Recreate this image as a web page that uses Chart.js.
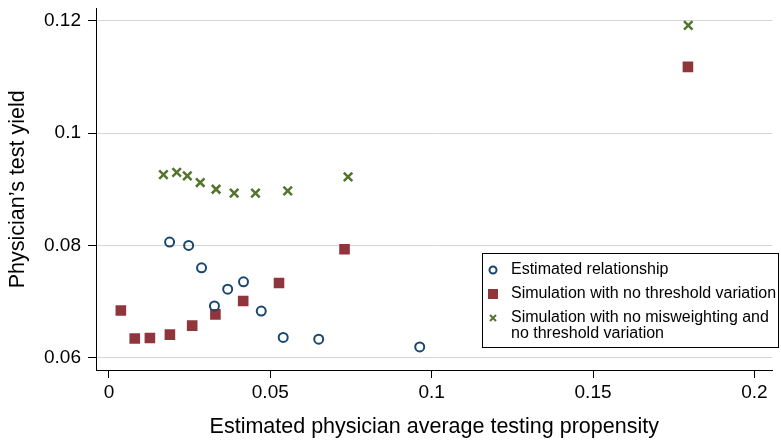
<!DOCTYPE html>
<html lang="en">
<head>
<meta charset="UTF-8">
<title>Physician's test yield</title>
<script src="https://cdn.jsdelivr.net/npm/chart.js"></script>
<style>
    body { margin: 0; background: #ffffff; }
    #wrap { width: 781px; height: 440px; }
</style>
</head>
<body>
<div id="wrap"><canvas id="yieldChart" width="781" height="440"></canvas></div>
<script>
    // x = estimated average testing propensity, y = test yield
    const estX = [0.0188, 0.0247, 0.0287, 0.0327, 0.0368, 0.0417, 0.0472, 0.0540, 0.0650, 0.0963];
    const estY = [0.0806, 0.0800, 0.0760, 0.0692, 0.0722, 0.0735, 0.0683, 0.0636, 0.0633, 0.0619];

    const noThrX = [0.0037, 0.0080, 0.0127, 0.0189, 0.0258, 0.0330, 0.0416, 0.0527, 0.0730, 0.1794];
    const noThrY = [0.0684, 0.0634, 0.0635, 0.0641, 0.0657, 0.0677, 0.0701, 0.0733, 0.0793, 0.1118];

    const noMisX = [0.0169, 0.0210, 0.0243, 0.0283, 0.0332, 0.0388, 0.0454, 0.0554, 0.0741, 0.1795];
    const noMisY = [0.0926, 0.0930, 0.0924, 0.0912, 0.0900, 0.0893, 0.0893, 0.0897, 0.0922, 0.1192];

    const xTicks = [0, 0.05, 0.1, 0.15, 0.2];
    const xTickLabels = ['0', '0.05', '0.1', '0.15', '0.2'];
    const yTicks = [0.06, 0.08, 0.1, 0.12];
    const yTickLabels = ['0.06', '0.08', '0.1', '0.12'];

    const seriesNames = [
        'Estimated relationship',
        'Simulation with no threshold variation',
        'Simulation with no misweighting and no threshold variation'
    ];
    // how the legend wraps the long label
    const legendLines = [
        ['Estimated relationship'],
        ['Simulation with no threshold variation'],
        ['Simulation with no misweighting and', 'no threshold variation']
    ];

    const pts = (xs, ys) => xs.map((x, i) => ({ x: x, y: ys[i] }));

    const FONT = '"Liberation Sans", Arial, Helvetica, sans-serif';
    Chart.defaults.font.family = FONT;

    // legend box drawn inside the plot (Stata style)
    const boxLegend = {
        id: 'boxLegend',
        afterDraw(chart) {
            const ctx = chart.ctx;
            const L = 482, T = 253, R = 779, B = 348;
            ctx.save();
            ctx.fillStyle = '#ffffff';
            ctx.fillRect(L, T, R - L, B - T);
            ctx.strokeStyle = '#000000';
            ctx.lineWidth = 1;
            ctx.strokeRect(L + 0.5, T + 0.5, R - L - 1, B - T - 1);

            ctx.font = '16px ' + FONT;
            ctx.textBaseline = 'middle';
            ctx.fillStyle = '#000';
            const rowY = [270, 294, 318];
            const symX = 493, textX = 511;
            chart.data.datasets.forEach((ds, i) => {
                const y = rowY[i];
                ctx.save();
                if (i === 0) {
                    ctx.strokeStyle = ds.borderColor;
                    ctx.lineWidth = 2;
                    ctx.beginPath();
                    ctx.arc(symX, y, 3.5, 0, Math.PI * 2);
                    ctx.stroke();
                } else if (i === 1) {
                    ctx.fillStyle = ds.backgroundColor;
                    ctx.fillRect(symX - 5, y - 5, 10, 10);
                } else {
                    ctx.strokeStyle = ds.borderColor;
                    ctx.lineWidth = 2;
                    ctx.beginPath();
                    ctx.moveTo(symX - 3, y - 3); ctx.lineTo(symX + 3, y + 3);
                    ctx.moveTo(symX + 3, y - 3); ctx.lineTo(symX - 3, y + 3);
                    ctx.stroke();
                }
                ctx.restore();
                legendLines[i].forEach((line, j) => {
                    ctx.fillText(line, textX, y + j * 16);
                });
            });
            ctx.restore();
        }
    };

    new Chart(document.getElementById('yieldChart').getContext('2d'), {
        type: 'scatter',
        data: {
            datasets: [{
                label: seriesNames[0],
                data: pts(estX, estY),
                pointStyle: 'circle',
                radius: 4.5,
                borderWidth: 2,
                borderColor: '#1a476f',
                backgroundColor: 'rgba(0,0,0,0)'
            }, {
                label: seriesNames[1],
                data: pts(noThrX, noThrY),
                pointStyle: 'rect',
                radius: 7.5,
                borderWidth: 0,
                borderColor: '#90353b',
                backgroundColor: '#90353b'
            }, {
                label: seriesNames[2],
                data: pts(noMisX, noMisY),
                pointStyle: 'crossRot',
                radius: 6,
                borderWidth: 2.5,
                borderColor: '#55752f',
                backgroundColor: '#55752f'
            }]
        },
        options: {
            responsive: false,
            animation: false,
            layout: { padding: { top: 7, right: 2, left: 0, bottom: 0 } },
            plugins: {
                legend: { display: false },
                tooltip: { enabled: false }
            },
            scales: {
                x: {
                    type: 'linear',
                    min: -0.004,
                    max: 0.2056,
                    afterBuildTicks: s => { s.ticks = xTicks.map(v => ({ value: v })); },
                    afterFit: s => { s.height = 70; s.paddingLeft = 0; s.paddingRight = 0; },
                    grid: { drawOnChartArea: false, drawTicks: true, tickLength: 8, tickColor: '#000', tickWidth: 1 },
                    border: { color: '#000', width: 1 },
                    ticks: {
                        color: '#000',
                        font: { size: 19 },
                        padding: 3,
                        maxRotation: 0,
                        autoSkip: false,
                        callback: (v, i) => xTickLabels[i]
                    },
                    title: {
                        display: true,
                        text: 'Estimated physician average testing propensity',
                        color: '#000',
                        font: { size: 21.5 },
                        padding: { top: 0, bottom: 0 }
                    }
                },
                y: {
                    type: 'linear',
                    min: 0.0578,
                    max: 0.1222,
                    afterBuildTicks: s => { s.ticks = yTicks.map(v => ({ value: v })); },
                    afterFit: s => { s.width = 96; s.paddingTop = 0; s.paddingBottom = 0; },
                    grid: { color: '#d6d6d6', lineWidth: 1, drawTicks: true, tickLength: 8, tickColor: '#000', tickWidth: 1 },
                    border: { color: '#000', width: 1 },
                    ticks: {
                        color: '#000',
                        font: { size: 19 },
                        padding: 7,
                        autoSkip: false,
                        callback: (v, i) => yTickLabels[i]
                    },
                    title: {
                        display: true,
                        text: "Physician\u2019s test yield",
                        color: '#000',
                        font: { size: 21.5 },
                        padding: { top: 5, bottom: 0 }
                    }
                }
            }
        },
        plugins: [boxLegend]
    });
</script>
</body>
</html>
